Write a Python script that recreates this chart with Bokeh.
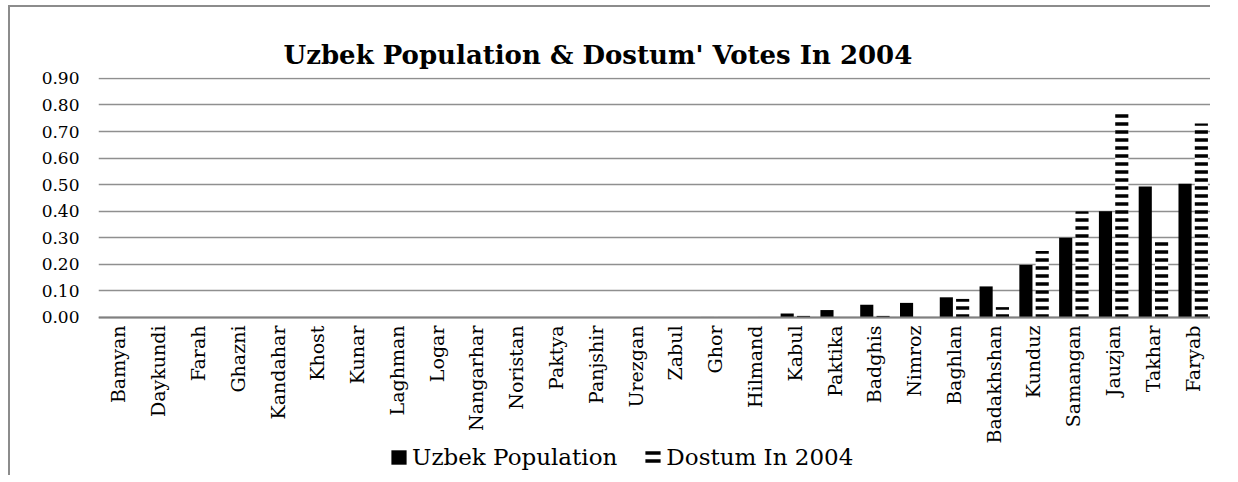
from bokeh.plotting import figure
from bokeh.models import ColumnDataSource, Legend, LegendItem, FactorRange, Range1d, NumeralTickFormatter
from bokeh.transform import dodge
from bokeh.embed import file_html
from bokeh.resources import INLINE
import math

provinces = ["Bamyan", "Daykundi", "Farah", "Ghazni", "Kandahar", "Khost", "Kunar",
             "Laghman", "Logar", "Nangarhar", "Noristan", "Paktya", "Panjshir", "Urezgan",
             "Zabul", "Ghor", "Hilmand", "Kabul", "Paktika", "Badghis", "Nimroz", "Baghlan",
             "Badakhshan", "Kunduz", "Samangan", "Jauzjan", "Takhar", "Faryab"]
uzbek_population = [0, 0, 0, 0, 0, 0, 0, 0, 0, 0, 0, 0, 0, 0, 0, 0.002, 0.001, 0.015,
                    0.028, 0.048, 0.055, 0.076, 0.117, 0.198, 0.30, 0.40, 0.493, 0.503]
dostum_2004 = [0, 0, 0, 0, 0, 0, 0, 0, 0, 0, 0, 0, 0, 0, 0, 0.002, 0.002, 0.006,
               0.0, 0.006, 0.0, 0.07, 0.039, 0.25, 0.40, 0.773, 0.29, 0.73]
y_ticks = [0.0, 0.1, 0.2, 0.3, 0.4, 0.5, 0.6, 0.7, 0.8, 0.9]
title_text = "Uzbek Population & Dostum' Votes In 2004"

src = ColumnDataSource(dict(prov=provinces, pop=uzbek_population, dos=dostum_2004))

SERIF = "DejaVu Serif"

# the value range extends below zero only to leave room for the category labels and
# the legend inside the plotting frame; the x axis itself sits at 0
p = figure(x_range=FactorRange(*provinces), y_range=Range1d(-0.6023, 0.9034),
           width=1202, height=470, output_backend="svg", toolbar_location=None,
           min_border_left=88, min_border_right=0, min_border_top=70, min_border_bottom=0,
           title=title_text)
p.styles = {"margin-left": "8px", "margin-top": "5px", "vertical-align": "top",
            "border-left": "2px solid #8c8c8c", "border-top": "2px solid #8c8c8c"}
p.outline_line_color = None
p.background_fill_color = "white"
p.border_fill_color = "white"

p.title.text_font = SERIF
p.title.text_font_size = "26px"
p.title.text_font_style = "bold"
p.title.text_color = "black"
p.title.align = "left"
p.title.offset = 185
p.title.standoff = 16

r1 = p.vbar(x=dodge("prov", -0.19, range=p.x_range), top="pop", width=0.33, source=src,
            fill_color="black", line_color=None)
r2 = p.vbar(x=dodge("prov", 0.22, range=p.x_range), top="dos", width=0.33, source=src,
            fill_color="white", line_color=None, hatch_pattern="horizontal_line",
            hatch_color="black", hatch_scale=8, hatch_weight=3.5)

p.xgrid.grid_line_color = None
p.ygrid.grid_line_color = "#8f8f8f"
p.ygrid.grid_line_width = 1.5
p.ygrid.ticker = y_ticks

p.yaxis.ticker = y_ticks
p.yaxis.formatter = NumeralTickFormatter(format="0.00")
p.yaxis.axis_line_color = None
p.yaxis.major_tick_line_color = None
p.yaxis.minor_tick_line_color = None
p.yaxis.major_tick_out = 0
p.yaxis.major_label_standoff = 19
p.yaxis.major_label_text_font = SERIF
p.yaxis.major_label_text_font_size = "17px"
p.yaxis.major_label_text_color = "black"

p.xaxis.fixed_location = 0
p.xaxis.axis_line_color = "#808080"
p.xaxis.axis_line_width = 2
p.xaxis.major_tick_line_color = None
p.xaxis.minor_tick_line_color = None
p.xaxis.major_tick_out = 0
p.xaxis.major_label_standoff = 8
p.xaxis.major_label_orientation = math.pi / 2
p.xaxis.major_label_text_font = SERIF
p.xaxis.major_label_text_font_size = "19px"
p.xaxis.major_label_text_color = "black"

legend = Legend(items=[LegendItem(label="Uzbek Population", renderers=[r1]),
                       LegendItem(label="Dostum In 2004", renderers=[r2])],
                location=(291, 7), orientation="horizontal",
                padding=0, margin=0, spacing=26, label_standoff=4,
                glyph_width=19, glyph_height=18, label_height=20,
                border_line_color=None, background_fill_alpha=0,
                label_text_font=SERIF, label_text_font_size="23px", label_text_color="black")
p.add_layout(legend, "center")

open("out.html", "w").write(file_html(p, INLINE))
